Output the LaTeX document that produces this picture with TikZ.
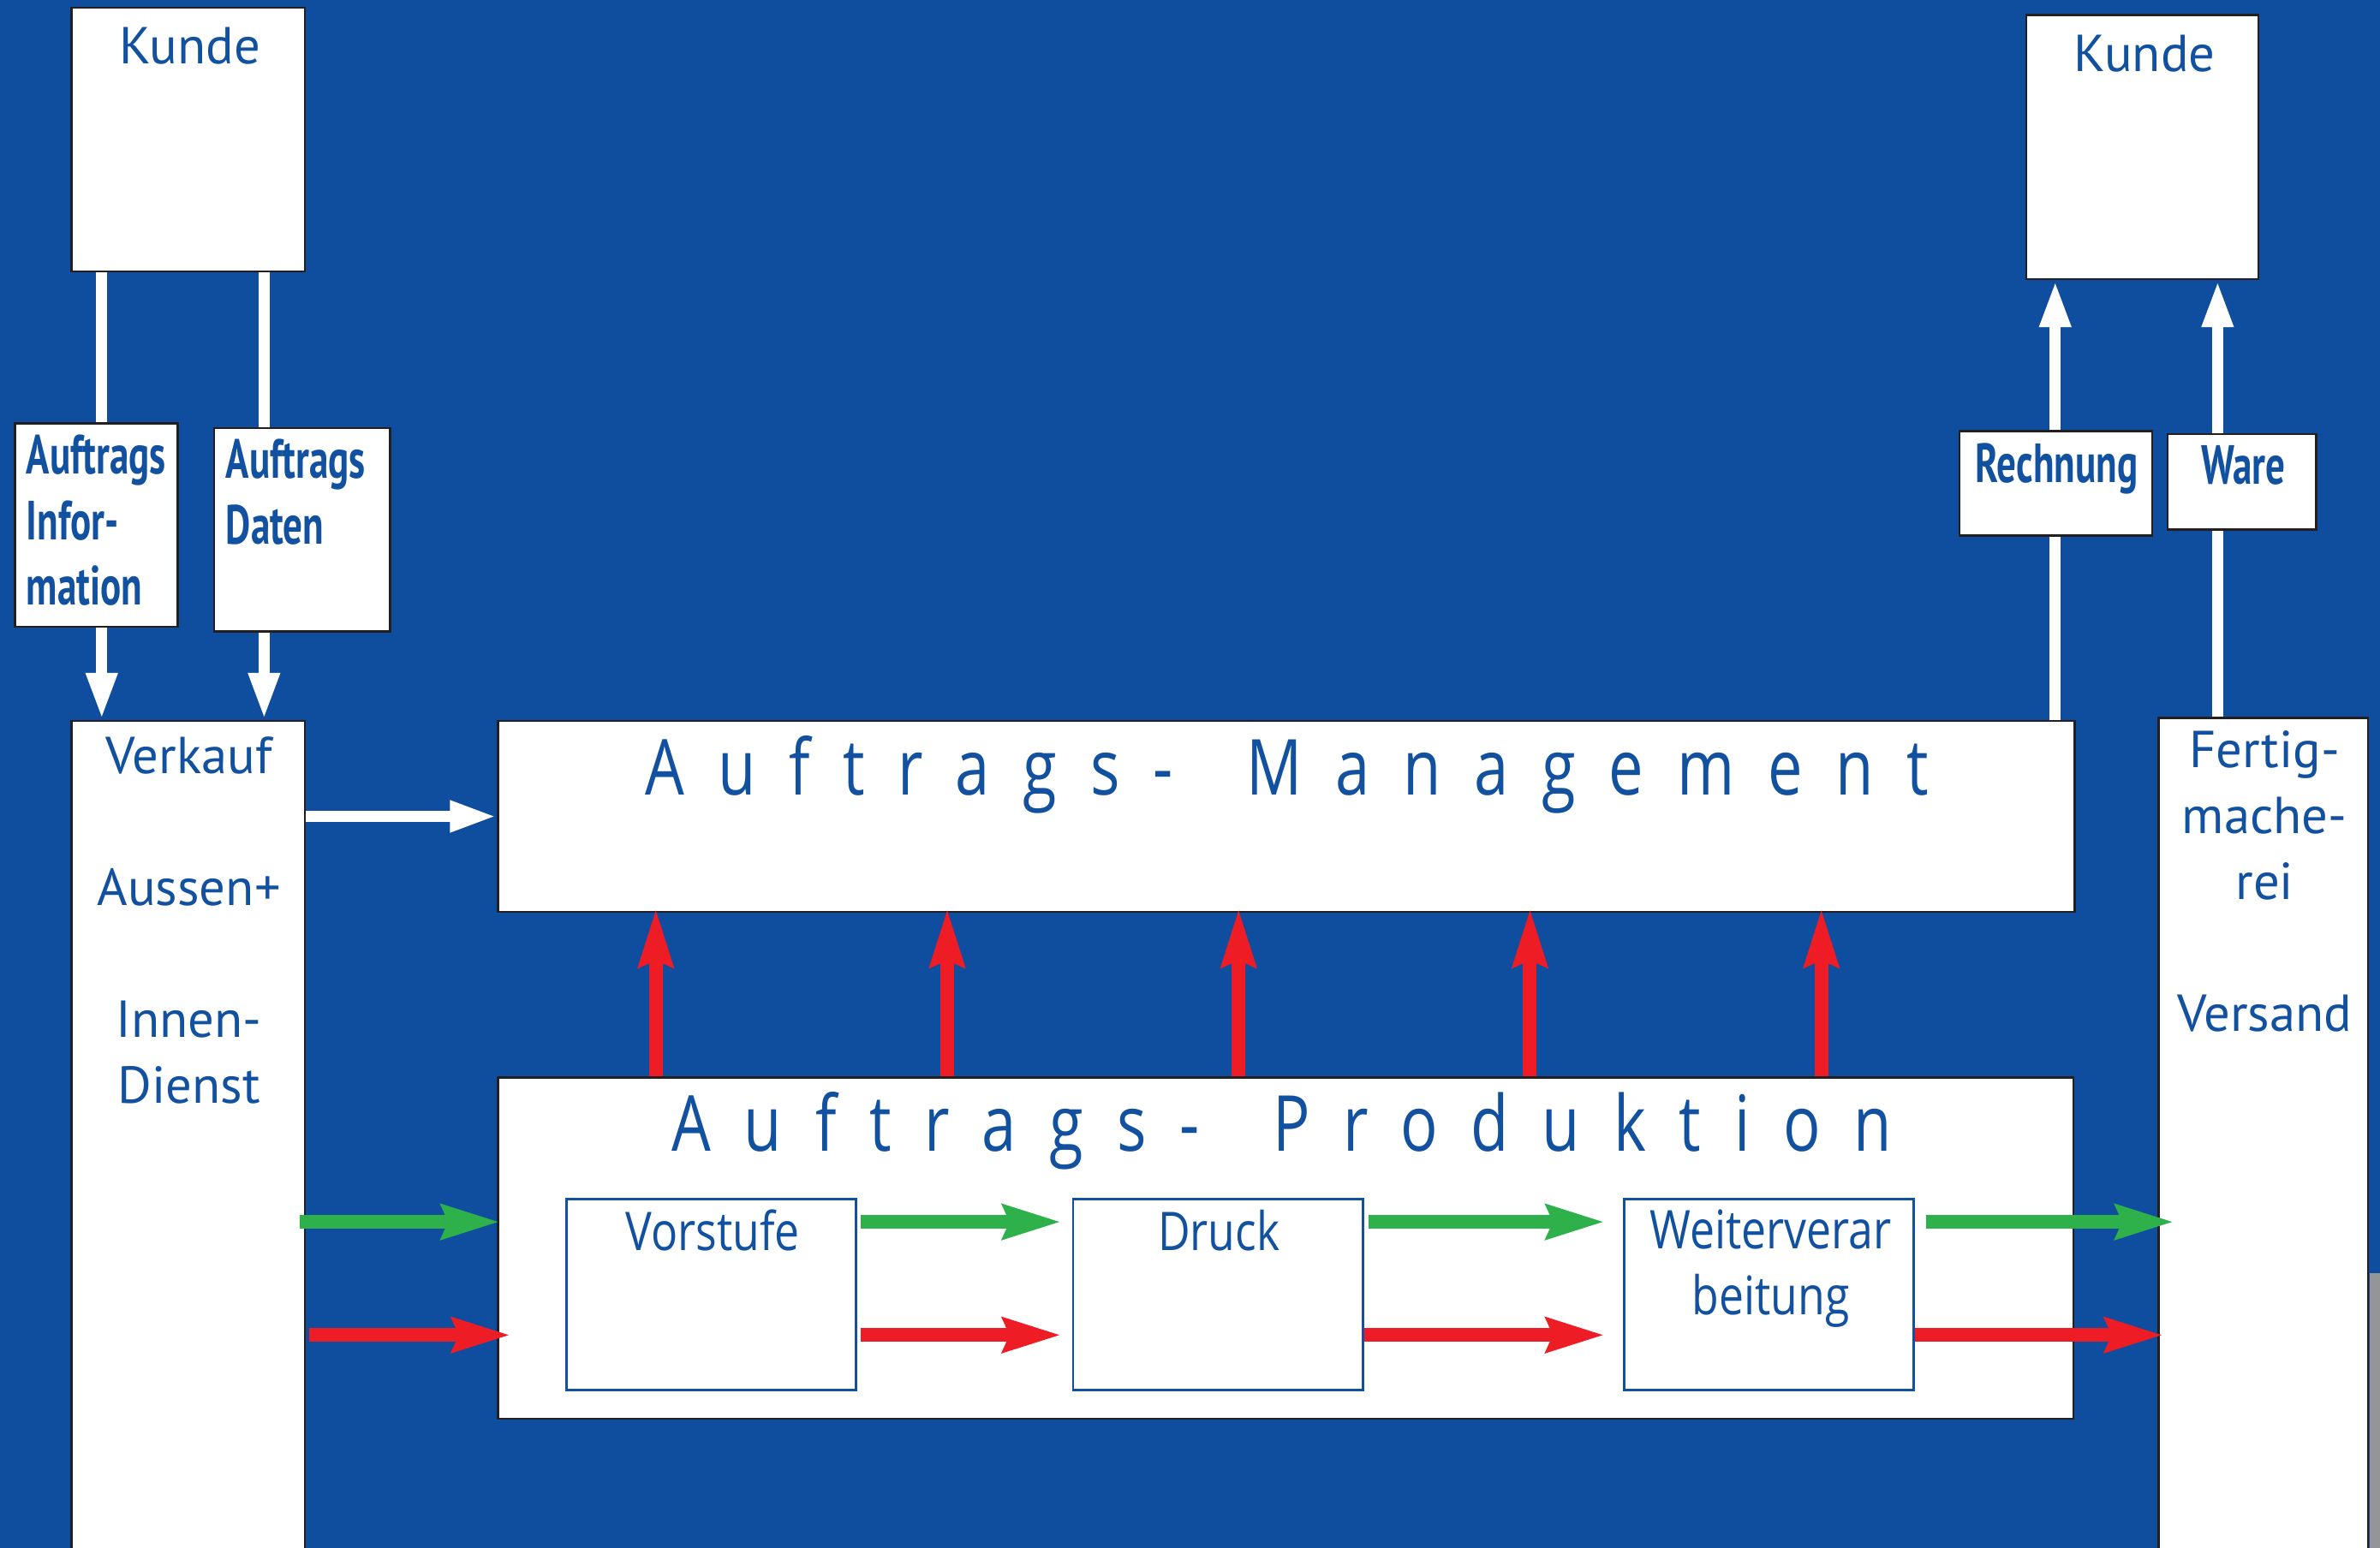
\documentclass[tikz,border=0pt]{standalone}
\usepackage{fontspec}
\setmainfont{PT Sans}
\newfontfamily\labfont[FakeStretch=0.70]{PT Sans}
\newfontfamily\condfont[FakeStretch=0.83]{Open Sans}
\newfontfamily\spacedfont[FakeStretch=0.8,LetterSpace=43]{Open Sans}
\usepackage{tikz}
\usetikzlibrary{arrows.meta,positioning}
\definecolor{bg}{HTML}{0F4D9F}
\definecolor{ink}{HTML}{1250A0}
\definecolor{frame}{HTML}{231F20}
\definecolor{flowgreen}{HTML}{2EB04A}
\definecolor{flowred}{HTML}{EE1C25}
\definecolor{stripgray}{HTML}{939598}
\tikzset{
  box/.style={draw=frame, fill=white, line width=0.8pt, inner sep=0pt},
  subbox/.style={draw=ink, fill=white, line width=0.9pt, inner sep=0pt},
  info/.style={white, line width=0.15cm, -{Triangle[length=0.62cm, width=0.38cm]}},
  goods/.style={flowgreen, line width=0.18cm, -{Stealth[length=0.76cm, width=0.44cm, inset=0.08cm]}},
  data/.style={flowred, line width=0.18cm, -{Stealth[length=0.76cm, width=0.44cm, inset=0.08cm]}},
  lab/.style={text=ink, inner sep=0pt, font=\fontsize{19.5pt}{24.7pt}\selectfont, align=center},
  labb/.style={text=ink, inner sep=0pt, font=\labfont\bfseries\fontsize{20.7pt}{24.7pt}\selectfont, align=left},
  labc/.style={text=ink, inner sep=0pt, font=\condfont\fontsize{20pt}{24.5pt}\selectfont, align=center},
  title/.style={text=ink, inner sep=0pt, font=\spacedfont\fontsize{29pt}{34pt}\selectfont},
}
\begin{document}
\begin{tikzpicture}[x=0.02cm, y=-0.02cm]
\useasboundingbox (0,0) rectangle (1568,1020);
\clip (0,0) rectangle (1568,1020);
\fill[bg] (0,0) rectangle (1568,1020);
\fill[stripgray] (1561,839) rectangle (1568,1020);
% main boxes
\node[box, minimum width=3.08cm, minimum height=3.48cm] (kundeL) at (124,92) {};
\node[box, minimum width=3.06cm, minimum height=3.48cm] (kundeR) at (1411.5,97) {};
\node[box, minimum width=3.08cm, minimum height=11.3cm] (verkauf) at (124,757.5) {};
\node[box, minimum width=2.76cm, minimum height=11.34cm] (fertig) at (1491,756.5) {};
\node[box, minimum width=20.78cm, minimum height=2.52cm] (mgmt) at (847.5,538) {};
\node[box, minimum width=20.76cm, minimum height=4.5cm] (prod) at (847,822.5) {};
\node[subbox, minimum width=3.82cm, minimum height=2.52cm] (vorstufe) at (468.5,853) {};
\node[subbox, minimum width=3.82cm, minimum height=2.52cm] (druck) at (802.5,853) {};
\node[subbox, minimum width=3.82cm, minimum height=2.52cm] (weiter) at (1165.5,853) {};
% white flows
\draw[info] ([xshift=-1.14cm]kundeL.south) -- ([xshift=-1.14cm]verkauf.north);
\draw[info] ([xshift=1cm]kundeL.south) -- ([xshift=1cm]verkauf.north);
\draw[info] (verkauf.east |- mgmt.west) -- (mgmt.west);
\coordinate (rechX) at ([xshift=-1.15cm]kundeR.south);
\coordinate (wareX) at ([xshift=0.99cm]kundeR.south);
\draw[info] (rechX |- mgmt.north) -- (rechX);
\draw[info] (wareX |- fertig.north) -- (wareX);
% red feedback
\foreach \i in {0,...,4} {
  \coordinate (up\i) at ([xshift={-8.3cm+\i*3.84cm}]prod.north);
  \draw[data] (up\i) -- ([yshift=0.06cm]up\i |- mgmt.south);
}
% green and red rows
\coordinate (gRow) at ([shift={(0,16)}]vorstufe.north);
\coordinate (rRow) at ([shift={(0,-37)}]vorstufe.south);
\draw[goods] ([xshift=-0.08cm]verkauf.east |- gRow) -- ([xshift=0.04cm]prod.west |- gRow);
\draw[data] ([xshift=0.04cm]verkauf.east |- rRow) -- ([xshift=0.18cm]prod.west |- rRow);
\draw[goods] ([xshift=0.04cm]vorstufe.east |- gRow) -- ([xshift=-0.14cm]druck.west |- gRow);
\draw[data] ([xshift=0.04cm]vorstufe.east |- rRow) -- ([xshift=-0.14cm]druck.west |- rRow);
\draw[goods] ([xshift=0.06cm]druck.east |- gRow) -- ([xshift=-0.24cm]weiter.west |- gRow);
\draw[data] (druck.east |- rRow) -- ([xshift=-0.24cm]weiter.west |- rRow);
\draw[goods] ([xshift=0.14cm]weiter.east |- gRow) -- ([xshift=0.22cm]fertig.west |- gRow);
\draw[data] (weiter.east |- rRow) -- ([xshift=0.08cm]fertig.west |- rRow);
% label boxes
\node[box, minimum width=2.14cm, minimum height=2.68cm] (infoBox) at (63.5,346) {};
\node[box, minimum width=2.32cm, minimum height=2.68cm] (datenBox) at (199,349) {};
\node[box, minimum width=2.54cm, minimum height=1.38cm] (rechBox) at (1354.5,318.5) {};
\node[box, minimum width=1.96cm, minimum height=1.26cm] (wareBox) at (1477,317.5) {};
% texts
\node[lab, anchor=base] (kundeLtxt) at (125,42) {Kunde};
\node[lab, anchor=base] (kundeRtxt) at (1413,47) {Kunde};
\node[labb, anchor=north west] (infoTxt) at (17,286) {Auftrags\\Infor-\\mation};
\node[labb, anchor=north west] (datenTxt) at (148.5,289) {Auftrags\\Daten};
\node[labb, anchor=base] (rechTxt) at (1355,318) {Rechnung};
\node[labb, anchor=base] (wareTxt) at (1478,319) {Ware};
\node[lab, anchor=north] (verkaufTxt) at (124.5,485.5) {Verkauf\\[24.7pt]Aussen+\\[24.7pt]Innen-\\Dienst};
\node[lab, anchor=north] (fertigTxt) at (1492,481.5) {Fertig-\\mache-\\rei\\[24.7pt]Versand};
\node[title, anchor=base] (mgmtTxt) at (848,524) {Auftrags-\hspace{9pt} Management};
\node[title, anchor=base] (prodTxt) at (844.5,758.5) {Auftrags-\hspace{9pt} Produktion};
\node[labc, anchor=base] (vorTxt) at (469.5,824) {Vorstufe};
\node[labc, anchor=base] (druckTxt) at (803,824) {Druck};
\node[labc, anchor=north] (weiterTxt) at (1166.5,797) {Weiterverar\\beitung};
\end{tikzpicture}
\end{document}
